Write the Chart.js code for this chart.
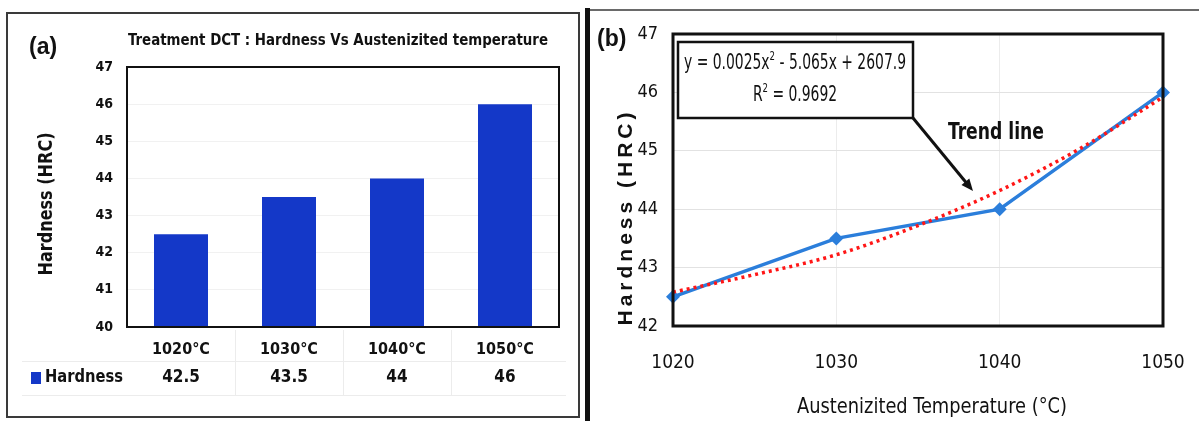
<!DOCTYPE html>
<html>
<head>
<meta charset="utf-8">
<script src="https://cdn.jsdelivr.net/npm/chart.js@4/dist/chart.umd.min.js"></script>
<style>
  html, body { margin: 0; padding: 0; background: #fff; }
  #page { position: relative; width: 1199px; height: 421px; overflow: hidden; background: #fff; }
  #frameA { position: absolute; left: 6px; top: 12px; width: 570px; height: 402px; border: 2px solid #3a3a3a; }
  #sep { position: absolute; left: 585px; top: 8px; width: 5px; height: 413px; background: #111; }
  #topB { position: absolute; left: 590px; top: 9px; width: 609px; height: 0; border-top: 2px solid #6a6a6a; }
  #wrapA { position: absolute; left: 0; top: 0; width: 590px; height: 421px; }
  #wrapB { position: absolute; left: 590px; top: 0; width: 609px; height: 421px; }
</style>
</head>
<body>
<div id="page">
  <div id="frameA"></div>
  <div id="sep"></div>
  <div id="topB"></div>
  <div id="wrapA"><canvas id="chartA" width="590" height="421"></canvas></div>
  <div id="wrapB"><canvas id="chartB" width="609" height="421"></canvas></div>
</div>
<script>
// ---- data ----
const categories = ['1020°C', '1030°C', '1040°C', '1050°C'];
const hardness = [42.5, 43.5, 44, 46];
const temps = [1020, 1030, 1040, 1050];
// red dotted polynomial trend
const trendTemps = [1020, 1025, 1030, 1035, 1040, 1045, 1050];
const trendHardness = [42.58, 42.88, 43.22, 43.72, 44.32, 45.05, 45.92];
const equationText = ['y = 0.0025x', '2', ' - 5.065x + 2607.9'];
const r2Text = ['R', '2', ' = 0.9692'];

const NARROW = '"Liberation Sans Narrow", "DejaVu Sans Condensed", sans-serif';
const BAR_BLUE = '#1438c8';
const LINE_BLUE = '#2b7edb';

// width of a line of text with a superscript part
function richWidth(ctx, parts, size) {
    let total = 0;
    parts.forEach((p, i) => {
        ctx.font = (i === 1 ? Math.round(size * 0.6) : size) + 'px ' + NARROW;
        total += ctx.measureText(p).width;
    });
    return total;
}

function richText(ctx, parts, cx, y, size, s) {
    const total = richWidth(ctx, parts, size);
    ctx.save();
    ctx.translate(cx - total * s / 2, y);
    ctx.scale(s, 1);
    let x = 0;
    ctx.textAlign = 'left';
    ctx.textBaseline = 'middle';
    parts.forEach((p, i) => {
        ctx.font = (i === 1 ? Math.round(size * 0.6) : size) + 'px ' + NARROW;
        ctx.fillText(p, x, i === 1 ? -size * 0.35 : 0);
        x += ctx.measureText(p).width;
    });
    ctx.restore();
}

// keep the plot rectangle where the padding puts it
function fixBox(s, size) {
    if (s.isHorizontal()) s.height = size; else s.width = size;
    s.paddingLeft = 0; s.paddingRight = 0; s.paddingTop = 0; s.paddingBottom = 0;
}

// ---- panel (a) ----
const panelA = {
    id: 'panelA',
    afterDatasetsDraw(chart) {
        const { ctx, chartArea: a, scales } = chart;
        ctx.save();
        ctx.strokeStyle = '#111';
        ctx.lineWidth = 2;
        ctx.strokeRect(a.left, a.top, a.right - a.left, a.bottom - a.top);

        ctx.fillStyle = '#111';
        ctx.textBaseline = 'middle';
        ctx.font = 'bold 23px "Liberation Sans", sans-serif';
        ctx.textAlign = 'left';
        ctx.fillText('(a)', 29, 48);

        ctx.font = 'bold 16px ' + NARROW;
        ctx.textAlign = 'center';
        ctx.fillText('Treatment DCT : Hardness Vs Austenizited temperature', 338, 41, 420);

        ctx.save();
        ctx.translate(47, 204);
        ctx.rotate(-Math.PI / 2);
        ctx.font = 'bold 19px ' + NARROW;
        ctx.fillText('Hardness (HRC)', 0, 0, 143);
        ctx.restore();

        // data table under the axis
        ctx.strokeStyle = '#ececec';
        ctx.lineWidth = 1;
        ctx.beginPath();
        ctx.moveTo(22, 361.5); ctx.lineTo(566, 361.5);
        ctx.moveTo(22, 395.5); ctx.lineTo(566, 395.5);
        for (let i = 0; i < categories.length - 1; i++) {
            const xm = (scales.x.getPixelForValue(i) + scales.x.getPixelForValue(i + 1)) / 2;
            ctx.moveTo(Math.round(xm) + 0.5, 330); ctx.lineTo(Math.round(xm) + 0.5, 395);
        }
        ctx.stroke();

        ctx.fillStyle = BAR_BLUE;
        ctx.fillRect(31, 372, 10, 12);
        ctx.fillStyle = '#111';
        ctx.font = 'bold 17px ' + NARROW;
        ctx.textAlign = 'left';
        ctx.fillText('Hardness', 45, 378, 78);
        ctx.textAlign = 'center';
        hardness.forEach((v, i) => {
            ctx.fillText(String(v), scales.x.getPixelForValue(i), 378);
        });
        ctx.restore();
    }
};

new Chart(document.getElementById('chartA'), {
    type: 'bar',
    data: {
        labels: categories,
        datasets: [{
            label: 'Hardness',
            data: hardness,
            backgroundColor: BAR_BLUE,
            borderWidth: 0,
            barPercentage: 0.5,
            categoryPercentage: 1
        }]
    },
    options: {
        responsive: false,
        animation: false,
        layout: { padding: { left: 87, right: 31, top: 67, bottom: 54 } },
        plugins: { legend: { display: false }, tooltip: { enabled: false }, title: { display: false } },
        scales: {
            x: {
                grid: { display: false },
                border: { display: false },
                ticks: { color: '#111', font: { family: NARROW, size: 16, weight: 'bold' }, padding: 5, maxRotation: 0 },
                afterFit: s => fixBox(s, 40)
            },
            y: {
                min: 40, max: 47,
                grid: { color: '#f1f1f1', drawTicks: false },
                border: { display: false },
                ticks: { stepSize: 1, color: '#111', font: { family: NARROW, size: 14, weight: 'bold' }, padding: 14 },
                afterFit: s => fixBox(s, 40)
            }
        }
    },
    plugins: [panelA]
});

// ---- panel (b) ----
const panelB = {
    id: 'panelB',
    afterDatasetsDraw(chart) {
        const { ctx, chartArea: a } = chart;
        ctx.save();
        ctx.strokeStyle = '#111';
        ctx.lineWidth = 3;
        ctx.strokeRect(a.left, a.top, a.right - a.left, a.bottom - a.top);

        ctx.fillStyle = '#111';
        ctx.textBaseline = 'middle';
        ctx.font = 'bold 23px "Liberation Sans", sans-serif';
        ctx.textAlign = 'left';
        ctx.fillText('(b)', 7, 40);

        // y title with wide letter spacing
        ctx.save();
        ctx.translate(36, 217);
        ctx.rotate(-Math.PI / 2);
        ctx.font = 'bold 21px "Liberation Sans", sans-serif';
        ctx.letterSpacing = '4px';
        ctx.textAlign = 'center';
        ctx.fillText('Hardness (HRC)', 0, 0, 222);
        ctx.restore();

        ctx.font = '22px ' + NARROW;
        ctx.textAlign = 'center';
        ctx.fillText('Austenizited Temperature (°C)', 342, 407, 270);

        // equation box
        ctx.fillStyle = '#fff';
        ctx.fillRect(88, 42, 235, 76);
        ctx.lineWidth = 2.5;
        ctx.strokeRect(88, 42, 235, 76);
        ctx.fillStyle = '#111';
        const sq = Math.min(1, 222 / richWidth(ctx, equationText, 21));
        richText(ctx, equationText, 205, 64, 21, sq);
        richText(ctx, r2Text, 205, 96, 21, sq);

        // arrow to the trend line
        const x0 = 323, y0 = 118, x1 = 383, y1 = 191;
        ctx.strokeStyle = '#111';
        ctx.lineWidth = 3;
        ctx.beginPath();
        ctx.moveTo(x0, y0);
        const ang = Math.atan2(y1 - y0, x1 - x0);
        ctx.lineTo(x1 - 8 * Math.cos(ang), y1 - 8 * Math.sin(ang));
        ctx.stroke();
        ctx.beginPath();
        ctx.moveTo(x1, y1);
        ctx.lineTo(x1 - 13 * Math.cos(ang - 0.4), y1 - 13 * Math.sin(ang - 0.4));
        ctx.lineTo(x1 - 13 * Math.cos(ang + 0.4), y1 - 13 * Math.sin(ang + 0.4));
        ctx.closePath();
        ctx.fill();

        ctx.font = 'bold 23px ' + NARROW;
        ctx.textAlign = 'left';
        ctx.fillText('Trend line', 358, 133, 96);
        ctx.restore();
    }
};

new Chart(document.getElementById('chartB'), {
    type: 'line',
    data: {
        datasets: [{
            label: 'Trend',
            data: trendTemps.map((t, i) => ({ x: t, y: trendHardness[i] })),
            borderColor: '#ff1616',
            borderWidth: 3.5,
            borderDash: [3, 4],
            pointRadius: 0,
            cubicInterpolationMode: 'monotone',
            clip: false,
            order: 1
        }, {
            label: 'Hardness',
            data: temps.map((t, i) => ({ x: t, y: hardness[i] })),
            borderColor: LINE_BLUE,
            backgroundColor: LINE_BLUE,
            borderWidth: 3.5,
            pointStyle: 'rectRot',
            pointRadius: 7,
            pointBorderWidth: 0,
            tension: 0,
            clip: false,
            order: 2
        }]
    },
    options: {
        responsive: false,
        animation: false,
        layout: { padding: { left: 43, right: 36, top: 34, bottom: 35 } },
        plugins: { legend: { display: false }, tooltip: { enabled: false } },
        scales: {
            x: {
                type: 'linear',
                min: 1020, max: 1050,
                grid: { color: '#ececec', drawTicks: false },
                border: { display: false },
                ticks: { stepSize: 10, color: '#111', font: { family: NARROW, size: 19 }, padding: 26, callback: v => String(v) },
                afterFit: s => fixBox(s, 60)
            },
            y: {
                min: 42, max: 47,
                grid: { color: '#e2e2e2', drawTicks: false },
                border: { display: false },
                ticks: { stepSize: 1, color: '#111', font: { family: NARROW, size: 18 }, padding: 15 },
                afterFit: s => fixBox(s, 40)
            }
        }
    },
    plugins: [panelB]
});
</script>
</body>
</html>
